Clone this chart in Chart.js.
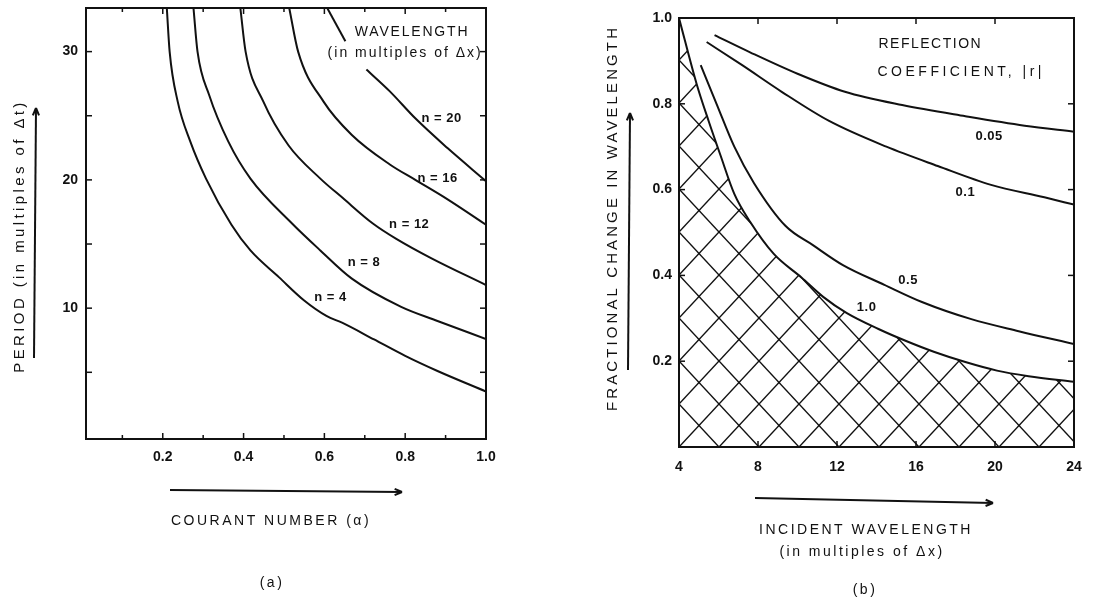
<!DOCTYPE html>
<html>
<head>
<meta charset="utf-8">
<script src="https://cdn.jsdelivr.net/npm/chart.js@4/dist/chart.umd.min.js"></script>
<style>
  html, body { margin: 0; padding: 0; background: #fff; }
  #wrap { position: relative; width: 1115px; height: 602px; }
  canvas { position: absolute; top: 0; }
  #courant { left: 0; }
  #reflect { left: 557px; }
</style>
</head>
<body>
<div id="wrap">
  <canvas id="courant" width="557" height="602"></canvas>
  <canvas id="reflect" width="558" height="602"></canvas>
</div>
<script>
const INK = '#111'
const FONT = '"Liberation Sans", Arial, sans-serif'

// (a) period (multiples of dt) against Courant number, one curve per wavelength n
const periodN4 = [[0.21, 33.4], [0.217, 30], [0.237, 26.1], [0.268, 23], [0.307, 20.1], [0.37, 16.5], [0.417, 14.5], [0.488, 12.4], [0.55, 10.6], [0.605, 9.4], [0.645, 8.85], [0.723, 7.56], [0.80, 6.28], [0.88, 5.1], [1.0, 3.5]]
const periodN8 = [[0.276, 33.4], [0.286, 30], [0.315, 26.6], [0.362, 23], [0.417, 20.1], [0.52, 16.6], [0.59, 14.5], [0.668, 12.3], [0.79, 10.1], [0.88, 9.0], [1.0, 7.6]]
const periodN12 = [[0.392, 33.4], [0.405, 30], [0.449, 26.1], [0.511, 22.7], [0.59, 20.1], [0.645, 18.6], [0.72, 16.6], [0.778, 15.4], [0.864, 13.9], [1.0, 11.8]]
const periodN16 = [[0.513, 33.4], [0.535, 30], [0.598, 26.1], [0.668, 23.5], [0.762, 21.2], [0.825, 20.0], [0.904, 18.5], [1.0, 16.5]]
// n = 20 is broken where the WAVELENGTH note sits
const periodN20top = [[0.607, 33.4], [0.652, 30.8]]
const periodN20 = [[0.704, 28.6], [0.762, 26.9], [0.825, 24.8], [0.904, 22.5], [1.0, 19.9]]

// (b) fractional change in wavelength against incident wavelength, per |r|
const reflect005 = [[5.8, 0.96], [7.6, 0.92], [10.0, 0.87], [12.4, 0.828], [15.3, 0.797], [18.5, 0.771], [21.5, 0.749], [24, 0.735]]
const reflect01 = [[5.4, 0.944], [7.2, 0.89], [9.2, 0.828], [11.6, 0.76], [14.5, 0.70], [17.1, 0.655], [19.8, 0.611], [22.5, 0.582], [24, 0.565]]
const reflect05 = [[5.1, 0.89], [5.9, 0.80], [6.8, 0.70], [7.8, 0.615], [9.4, 0.515], [10.8, 0.47], [12.3, 0.424], [14.4, 0.378], [16.3, 0.338], [18.8, 0.298], [21.2, 0.27], [24, 0.24]]
const reflect10 = [[4.0, 1.0], [4.9, 0.845], [5.5, 0.76], [6.1, 0.68], [6.8, 0.59], [7.6, 0.525], [8.8, 0.45], [10.2, 0.395], [11.3, 0.35], [12.5, 0.312], [14.1, 0.275], [15.5, 0.247], [16.9, 0.222], [18.5, 0.198], [20.1, 0.178], [21.7, 0.165], [24, 0.152]]

const labelsA = [
  { text: 'WAVELENGTH', x: 0.817, y: 31.5, spacing: '1.8px' },
  { text: '(in multiples of Δx)', x: 0.80, y: 29.9, spacing: '2px' },
  { text: 'n = 20', x: 0.89, y: 24.8, bold: true },
  { text: 'n = 16', x: 0.88, y: 20.1, bold: true },
  { text: 'n = 12', x: 0.81, y: 16.5, bold: true },
  { text: 'n = 8', x: 0.698, y: 13.6, bold: true },
  { text: 'n = 4', x: 0.615, y: 10.8, bold: true }
]
const labelsB = [
  { text: 'REFLECTION', x: 14.1, y: 0.94, align: 'left', spacing: '1.5px' },
  { text: 'COEFFICIENT, |r|', x: 14.05, y: 0.874, align: 'left', spacing: '3.5px' },
  { text: '0.05', x: 19.7, y: 0.723, bold: true },
  { text: '0.1', x: 18.5, y: 0.594, bold: true },
  { text: '0.5', x: 15.6, y: 0.388, bold: true },
  { text: '1.0', x: 13.5, y: 0.325, bold: true }
]

const pts = (arr) => arr.map(([x, y]) => ({ x, y }))

function hatch () {
  const w = 40
  const h = 43
  const c = document.createElement('canvas')
  c.width = w
  c.height = h
  const g = c.getContext('2d')
  g.strokeStyle = INK
  g.lineWidth = 1.4
  for (const k of [-1, 0, 1]) {
    g.beginPath(); g.moveTo(k * w, 0); g.lineTo(k * w + w, h); g.stroke()
    g.beginPath(); g.moveTo(k * w + w, 0); g.lineTo(k * w, h); g.stroke()
  }
  return g.createPattern(c, 'repeat')
}
const hatchFill = hatch()

function seg (ctx, x1, y1, x2, y2) {
  ctx.beginPath(); ctx.moveTo(x1, y1); ctx.lineTo(x2, y2); ctx.stroke()
}

function arrow (ctx, x1, y1, x2, y2) {
  seg(ctx, x1, y1, x2, y2)
  const ang = Math.atan2(y2 - y1, x2 - x1)
  const len = 8
  seg(ctx, x2, y2, x2 - len * Math.cos(ang - 0.4), y2 - len * Math.sin(ang - 0.4))
  seg(ctx, x2, y2, x2 - len * Math.cos(ang + 0.4), y2 - len * Math.sin(ang + 0.4))
}

// frame, inward ticks, curve notes, axis titles and arrows
function decor (spec) {
  return {
    id: 'decor',
    beforeDatasetsDraw (chart) {
      const a = chart.chartArea
      hatchFill.setTransform(new DOMMatrix().translate(a.left, a.bottom))
    },
    afterDatasetsDraw (chart) {
      const { ctx, chartArea: a, scales: { x, y } } = chart
      ctx.save()
      ctx.strokeStyle = INK
      ctx.lineWidth = 2
      ctx.strokeRect(a.left, a.top, a.right - a.left, a.bottom - a.top)
      ctx.lineWidth = 1.5
      x.ticks.forEach((t) => {
        if (t.value <= x.min + 1e-9 || t.value >= x.max - 1e-9 || t.value === 0) return
        const px = x.getPixelForValue(t.value)
        const len = t.label ? 6 : 4
        seg(ctx, px, a.bottom, px, a.bottom - len)
        seg(ctx, px, a.top, px, a.top + len)
      })
      y.ticks.forEach((t) => {
        if (t.value <= y.min + 1e-9 || t.value >= y.max - 1e-9 || t.value === 0) return
        const py = y.getPixelForValue(t.value)
        seg(ctx, a.left, py, a.left + 6, py)
        seg(ctx, a.right, py, a.right - 6, py)
      })
      ctx.fillStyle = INK
      ctx.textBaseline = 'middle'
      spec.labels.forEach((l) => {
        ctx.font = (l.bold ? 'bold 13px ' : '14px ') + FONT
        ctx.letterSpacing = l.spacing || '0.5px'
        ctx.textAlign = l.align || 'center'
        ctx.fillText(l.text, x.getPixelForValue(l.x), y.getPixelForValue(l.y))
      })
      ctx.restore()
    },
    afterDraw (chart) {
      const ctx = chart.ctx
      ctx.save()
      ctx.strokeStyle = INK
      ctx.fillStyle = INK
      ctx.lineWidth = 2
      spec.arrows.forEach((ar) => arrow(ctx, ...ar))
      ctx.textAlign = 'center'
      ctx.textBaseline = 'middle'
      ctx.font = '14px ' + FONT
      ctx.letterSpacing = '2.5px'
      spec.titles.forEach((t) => ctx.fillText(t.text, t.x, t.y))
      ctx.font = '15px ' + FONT
      ctx.translate(spec.yTitle.x, spec.yTitle.y)
      ctx.rotate(-Math.PI / 2)
      ctx.letterSpacing = spec.yTitle.spacing
      ctx.fillText(spec.yTitle.text, 0, 0)
      ctx.restore()
    }
  }
}

// keep the plot box exactly where the layout padding puts it
const fixX = (s) => { s.height = 30; s.paddingLeft = 0; s.paddingRight = 0 }
const fixY = (w) => (s) => { s.width = w; s.paddingTop = 0; s.paddingBottom = 0 }

const tickFont = { family: FONT, size: 14, weight: 'bold' }
const line = (data, extra) => Object.assign({
  data: pts(data),
  borderColor: INK,
  borderWidth: 2,
  pointRadius: 0,
  fill: false,
  cubicInterpolationMode: 'monotone'
}, extra)

const common = {
  responsive: false,
  maintainAspectRatio: false,
  animation: false,
  events: [],
  plugins: { legend: { display: false }, tooltip: { enabled: false } }
}

new Chart(document.getElementById('courant'), {
  type: 'line',
  data: {
    datasets: [
      line(periodN4), line(periodN8), line(periodN12), line(periodN16),
      line(periodN20top), line(periodN20)
    ]
  },
  options: Object.assign({}, common, {
    layout: { padding: { left: 26, right: 71, top: 8, bottom: 133 } },
    scales: {
      x: {
        type: 'linear',
        min: 0.01,
        max: 1,
        grid: { display: false, drawTicks: false },
        border: { display: false },
        ticks: {
          stepSize: 0.1,
          includeBounds: false,
          autoSkip: false,
          maxRotation: 0,
          padding: 10,
          color: INK,
          font: tickFont,
          callback: (v) => {
            const r = Math.round(v * 10)
            return (r > 0 && r % 2 === 0) ? (r / 10).toFixed(1) : ''
          }
        },
        afterFit: fixX
      },
      y: {
        type: 'linear',
        min: -0.2,
        max: 33.4,
        grid: { display: false, drawTicks: false },
        border: { display: false },
        ticks: {
          stepSize: 5,
          includeBounds: false,
          autoSkip: false,
          padding: 8,
          color: INK,
          font: tickFont,
          callback: (v) => (v > 0 && v % 10 === 0) ? String(v) : ''
        },
        afterFit: fixY(60)
      }
    }
  }),
  plugins: [decor({
    labels: labelsA,
    arrows: [[170, 490, 402, 492], [34, 358, 36, 108]],
    titles: [
      { text: 'COURANT NUMBER (α)', x: 271, y: 521 },
      { text: '(a)', x: 272, y: 583 }
    ],
    yTitle: { text: 'PERIOD (in multiples of Δt)', x: 20, y: 236, spacing: '3.4px' }
  })]
})

new Chart(document.getElementById('reflect'), {
  type: 'line',
  data: {
    datasets: [
      line(reflect10, { fill: 'origin', backgroundColor: hatchFill }),
      line(reflect05), line(reflect01), line(reflect005)
    ]
  },
  options: Object.assign({}, common, {
    layout: { padding: { left: 72, right: 41, top: 18, bottom: 125 } },
    scales: {
      x: {
        type: 'linear',
        min: 4,
        max: 24,
        grid: { display: false, drawTicks: false },
        border: { display: false },
        ticks: {
          stepSize: 4,
          autoSkip: false,
          maxRotation: 0,
          padding: 12,
          color: INK,
          font: tickFont
        },
        afterFit: fixX
      },
      y: {
        type: 'linear',
        min: 0,
        max: 1,
        grid: { display: false, drawTicks: false },
        border: { display: false },
        ticks: {
          stepSize: 0.2,
          autoSkip: false,
          padding: 7,
          color: INK,
          font: tickFont,
          callback: (v) => {
            const r = Math.round(v * 10)
            return r === 0 ? '' : (r / 10).toFixed(1)
          }
        },
        afterFit: fixY(50)
      }
    }
  }),
  plugins: [decor({
    labels: labelsB,
    arrows: [[198, 498, 436, 503], [71, 370, 73, 113]],
    titles: [
      { text: 'INCIDENT WAVELENGTH', x: 309, y: 530 },
      { text: '(in multiples of Δx)', x: 305, y: 552 },
      { text: '(b)', x: 308, y: 590 }
    ],
    yTitle: { text: 'FRACTIONAL CHANGE IN WAVELENGTH', x: 56, y: 218, spacing: '3.1px' }
  })]
})
</script>
</body>
</html>
